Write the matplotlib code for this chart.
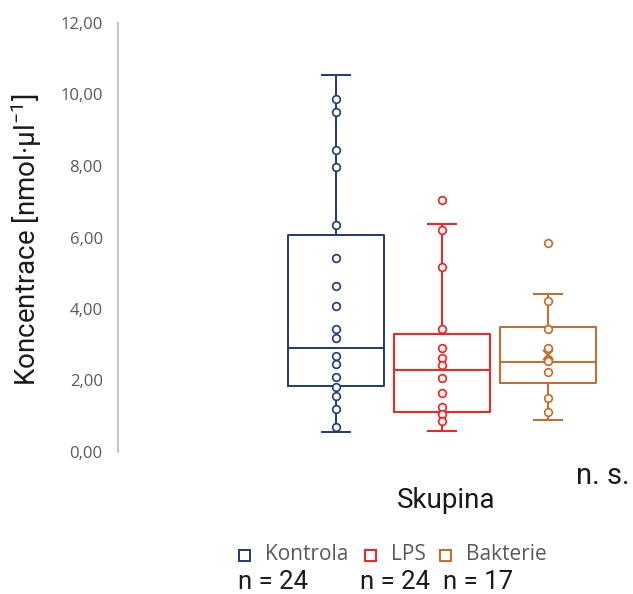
import matplotlib.pyplot as plt
from matplotlib.patches import Rectangle

plt.rcParams['font.family'] = ['Roboto', 'DejaVu Sans']
plt.rcParams['mathtext.fontset'] = 'custom'
plt.rcParams['mathtext.rm'] = 'Roboto'

# Data
groups = ['Kontrola', 'LPS', 'Bakterie']
counts = ['n = 24', 'n = 24', 'n = 17']
colors = ['#1F3A7A', '#FF1A1A', '#C8692A']

q1 = [1.85, 1.13, 1.92]
med = [2.92, 2.29, 2.51]
q3 = [6.07, 3.31, 3.49]
wlo = [0.55, 0.59, 0.90]
whi = [10.55, 6.39, 4.42]

kontrola_pts = [9.88, 9.51, 8.44, 7.97, 6.34, 5.42, 4.63, 4.09, 3.44, 3.20,
                2.69, 2.46, 2.09, 1.81, 1.57, 1.20, 0.71]
lps_pts = [7.05, 6.20, 5.18, 3.45, 2.92, 2.62, 2.42, 2.06, 1.65, 1.27, 1.06, 0.87]
bakterie_pts = [5.86, 4.23, 3.45, 2.90, 2.60, 2.55, 2.23, 1.50, 1.13]
points = [kontrola_pts, lps_pts, bakterie_pts]
bakterie_mean = 2.70

fig = plt.figure(figsize=(6.33, 5.94), dpi=100)
ax = fig.add_axes([118 / 633, 1 - 452 / 594, 502 / 633, 429 / 594])

stats = []
for i in range(3):
    stats.append(dict(med=med[i], q1=q1[i], q3=q3[i], whislo=wlo[i], whishi=whi[i], fliers=[]))

for i in range(3):
    c = colors[i]
    ax.bxp([stats[i]], positions=[i + 1], widths=0.9, capwidths=0.27, showfliers=False,
           boxprops=dict(color=c, lw=1.4),
           medianprops=dict(color=c, lw=1.4),
           whiskerprops=dict(color=c, lw=1.4),
           capprops=dict(color=c, lw=1.4))
    ax.plot([i + 1] * len(points[i]), points[i], 'o', ms=5.5, mfc='white',
            mec=c, mew=1.2, zorder=3)

ax.plot(3, bakterie_mean, 'x', ms=7, mec=colors[2], mew=1.3, zorder=4)

ax.set_xlim(-1.057, 3.68)
ax.set_ylim(0, 12)
ax.set_yticks(range(0, 13, 2))
ax.set_yticklabels(['%d,00' % v for v in range(0, 13, 2)])
ax.set_xticks([])
ax.tick_params(axis='y', length=0, pad=11, labelsize=12, labelcolor='#595959')
for lab in ax.get_yticklabels():
    lab.set_family(['Open Sans', 'DejaVu Sans'])
for s in ['top', 'right', 'bottom']:
    ax.spines[s].set_visible(False)
ax.spines['left'].set_color('#BFBFBF')
ax.spines['left'].set_linewidth(1.3)

ax.set_ylabel('Koncentrace [nmol·µl$^{\\mathregular{-1}}$]', fontsize=20, color='#1a1a1a')
ax.yaxis.set_label_coords((44 - 118) / 502, (452 - 240) / 429)


def fx(px):
    return px / 633


def fy(py):
    return 1 - py / 594


fig.text(fx(446), fy(500), 'Skupina', fontsize=20, ha='center', va='center', color='#1a1a1a')
fig.text(fx(603), fy(476), 'n. s.', fontsize=21, ha='center', va='center', color='#1a1a1a')

sq_x = [239, 365, 440]
for i in range(3):
    fig.patches.append(Rectangle((fx(sq_x[i]), fy(561)), 11 / 633, 11 / 594,
                                 fill=False, ec=colors[i], lw=1.4,
                                 transform=fig.transFigure, figure=fig))
    fig.text(fx(sq_x[i] + 26), fy(555), groups[i], fontsize=15, ha='left', va='center',
             color='#595959', family=['Open Sans', 'DejaVu Sans'])

n_x = [238, 360, 443]
for i in range(3):
    fig.text(fx(n_x[i]), fy(582), counts[i], fontsize=18.5, ha='left', va='center', color='#1a1a1a')

fig.savefig('out.png', dpi=100)
